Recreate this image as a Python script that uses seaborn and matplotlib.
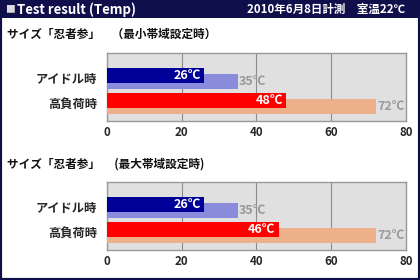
import matplotlib
matplotlib.use("Agg")
import matplotlib.pyplot as plt
import seaborn as sns
import pandas as pd
from matplotlib.patches import Rectangle

# ---- data ----
categories = ["アイドル時", "高負荷時"]
title_min = "サイズ「忍者参」　（最小帯域設定時）"
title_max = "サイズ「忍者参」　 (最大帯域設定時)"
front_min = [26, 48]
back_min = [35, 72]
front_max = [26, 46]
back_max = [35, 72]
x_ticks = [0, 20, 40, 60, 80]
header_mark = "■"
header_left = "Test result (Temp)"
header_right = "2010年6月8日計測　室温22℃"

# ---- style ----
sns.set_style("white")
plt.rcParams["font.family"] = ["Noto Sans CJK JP", "DejaVu Sans"]

navy = "#0f0f4b"
front_colors = ["#000099", "#ff0000"]
back_colors = ["#8b8bdb", "#edb08b"]
W, H = 420, 280

fig = plt.figure(figsize=(W / 100, H / 100), dpi=100)
fig.patch.set_facecolor("white")

# header bar and frame
fig.patches.append(Rectangle((0, 1 - 18 / H), 1, 18 / H, transform=fig.transFigure,
                             facecolor=navy, edgecolor="none", zorder=0))
fig.patches.append(Rectangle((0, 0), 1, 1, transform=fig.transFigure, fill=False,
                             edgecolor=navy, linewidth=3.0, zorder=5))
fig.text(5 / W, 1 - 9.5 / H, header_mark, color="#dddddd", fontsize=7,
         ha="left", va="center")
fig.text(17 / W, 1 - 9.5 / H, header_left, color="white", fontsize=9.5,
         fontweight="bold", ha="left", va="center")
fig.text(405 / W, 1 - 9.5 / H, header_right, color="white", fontsize=8.3,
         fontweight="bold", ha="right", va="center")

offset = 0.119
bar_h = 0.59


def panel(ax, front, back):
    ax.set_facecolor("#e0e0e0")
    idx = list(range(len(categories)))
    df_back = pd.DataFrame({"cat": categories, "val": back,
                            "pos": [i + offset for i in idx]})
    df_front = pd.DataFrame({"cat": categories, "val": front,
                             "pos": [i - offset for i in idx]})
    sns.barplot(data=df_back, x="val", y="pos", hue="cat", orient="h",
                native_scale=True, width=bar_h, dodge=False, saturation=1,
                palette=dict(zip(categories, back_colors)), legend=False,
                ax=ax, zorder=3, linewidth=0)
    sns.barplot(data=df_front, x="val", y="pos", hue="cat", orient="h",
                native_scale=True, width=bar_h, dodge=False, saturation=1,
                palette=dict(zip(categories, front_colors)), legend=False,
                ax=ax, zorder=4, linewidth=0)
    for i in idx:
        ax.text(front[i] - 0.9, i - offset, f"{front[i]}℃", color="white",
                fontsize=9, fontweight="bold", ha="right", va="center", zorder=6)
        ax.text(back[i] + 0.4, i + offset, f"{back[i]}℃", color="#999999",
                fontsize=9, fontweight="bold", ha="left", va="center", zorder=6)
    ax.set_xlim(0, 80)
    ax.set_ylim(1.68, -1.01)
    ax.set_xticks(x_ticks)
    ax.set_xticklabels([str(t) for t in x_ticks], fontsize=8.3, fontweight="bold")
    ax.set_yticks(idx)
    ax.set_yticklabels(categories, fontsize=8.8, fontweight="bold")
    ax.tick_params(axis="x", length=0, pad=3.5)
    ax.tick_params(axis="y", length=0, pad=7)
    ax.set_xlabel("")
    ax.set_ylabel("")
    ax.xaxis.grid(True, color="#8c8c8c", linewidth=0.8, zorder=1)
    ax.yaxis.grid(False)
    ax.set_axisbelow(True)
    for s in ax.spines.values():
        s.set_color("#999999")
        s.set_linewidth(1.0)


ax1 = fig.add_axes([106.7 / W, 1 - 120.7 / H, 299.3 / W, 68 / H])
panel(ax1, front_min, back_min)
ax2 = fig.add_axes([106.7 / W, 1 - 250 / H, 299.3 / W, 68.3 / H])
panel(ax2, front_max, back_max)

fig.text(7 / W, 1 - 34 / H, title_min, fontsize=8.4, fontweight="bold",
         ha="left", va="center", color="#111111")
fig.text(7 / W, 1 - 164.5 / H, title_max, fontsize=8.4, fontweight="bold",
         ha="left", va="center", color="#111111")

fig.savefig("out.png", dpi=100)
